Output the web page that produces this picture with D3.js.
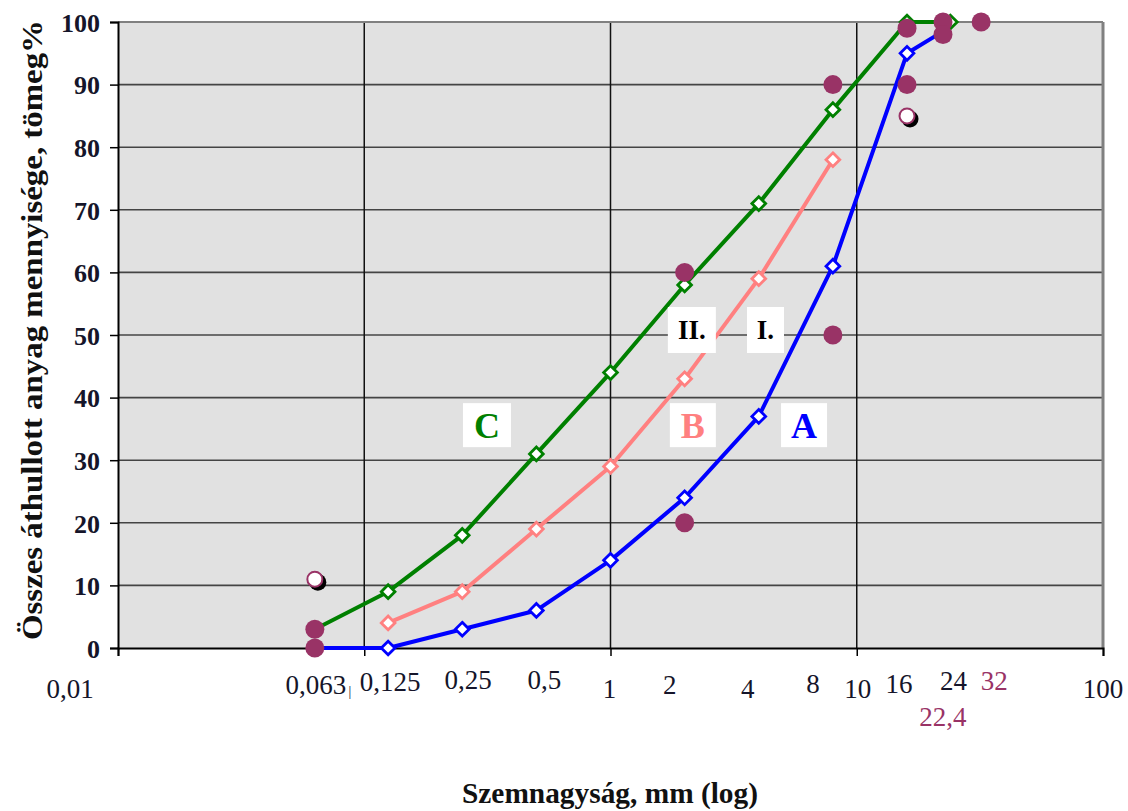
<!DOCTYPE html>
<html>
<head>
<meta charset="utf-8">
<script src="https://cdn.jsdelivr.net/npm/d3@7"></script>
<style>
  html, body { margin: 0; padding: 0; background: #fff; }
  svg { display: block; }
  text { font-family: "Liberation Serif", "Times New Roman", serif; }
</style>
</head>
<body>
<svg id="chart" width="1128" height="811"></svg>
<script>
// ---------- data ----------
const sieveC = [0.063, 0.125, 0.25, 0.5, 1, 2, 4, 8, 16, 24];
const valuesC = [3, 9, 18, 31, 44, 58, 71, 86, 100, 100];
const sieveB = [0.125, 0.25, 0.5, 1, 2, 4, 8];
const valuesB = [4, 9, 19, 29, 43, 59, 78];
const sieveA = [0.063, 0.125, 0.25, 0.5, 1, 2, 4, 8, 16, 22.4];
const valuesA = [0, 0, 3, 6, 14, 24, 37, 61, 95, 98.5];
// limit points (filled)
const limitSizes = [0.063, 0.063, 2, 2, 8, 8, 16, 16, 22.4, 22.4, 32];
const limitValues = [0, 3, 60, 20, 90, 50, 99, 90, 100, 98, 100];
// open (hollow) points
const openSizes = [0.063, 16];
const openValues = [11, 85];
// x-axis labels
const xLabelValues = [0.01, 0.063, 0.125, 0.25, 0.5, 1, 2, 4, 8, 10, 16, 24, 32, 100, 22.4];
const xLabelTexts = ["0,01", "0,063", "0,125", "0,25", "0,5", "1", "2", "4", "8", "10", "16", "24", "32", "100", "22,4"];
const yTickValues = [0, 10, 20, 30, 40, 50, 60, 70, 80, 90, 100];
// curve annotations
const annoTexts = ["C", "B", "A", "II.", "I."];
const annoX = [0.315, 2.16, 6.11, 2.14, 4.26];
const annoY = [35.6, 35.6, 35.6, 50.8, 50.8];

// ---------- layout ----------
const L = 118, R = 1103, T = 22, B = 648;
const svg = d3.select("#chart");
const x = d3.scaleLog().domain([0.01, 100]).range([L, R]);
const y = d3.scaleLinear().domain([0, 100]).range([B, T]);

const purple = "#993366";
const colors = { C: "#008000", B: "#ff8080", A: "#0000ff" };
const ink = "#15152a";

// background
svg.append("rect").attr("x", L).attr("y", T).attr("width", R - L).attr("height", B - T)
  .attr("fill", "#e1e1e1");

// horizontal grid
svg.append("g").selectAll("line").data(yTickValues.filter(v => v > 0 && v < 100)).join("line")
  .attr("x1", L).attr("x2", R).attr("y1", d => y(d)).attr("y2", d => y(d))
  .attr("stroke", "#444").attr("stroke-width", 1.6);
// vertical grid
svg.append("g").selectAll("line").data([0.1, 1, 10]).join("line")
  .attr("x1", d => x(d)).attr("x2", d => x(d)).attr("y1", T).attr("y2", B)
  .attr("stroke", "#111").attr("stroke-width", 1.5);

// top / right border
svg.append("line").attr("x1", L).attr("x2", R).attr("y1", T).attr("y2", T)
  .attr("stroke", "#808080").attr("stroke-width", 2);
svg.append("line").attr("x1", R).attr("x2", R).attr("y1", T).attr("y2", B)
  .attr("stroke", "#808080").attr("stroke-width", 3);

// y axis
const yAxis = d3.axisLeft(y).tickValues(yTickValues).tickSize(8).tickFormat(d3.format("d"));
const gy = svg.append("g").attr("transform", `translate(${L},0)`).call(yAxis);
gy.select(".domain").attr("stroke", "#000").attr("stroke-width", 2);
gy.selectAll(".tick line").attr("stroke", "#000").attr("stroke-width", 1.5);
gy.selectAll(".tick text").attr("x", -18).attr("dy", "0.36em").style("font-size", "26px")
  .style("font-weight", "bold").attr("fill", ink);

// x axis (decade ticks only, labels drawn separately)
const xAxis = d3.axisBottom(x).tickValues([0.01, 0.1, 1, 10, 100]).tickSize(8).tickFormat("");
const gx = svg.append("g").attr("transform", `translate(0,${B})`).call(xAxis);
gx.select(".domain").attr("stroke", "#000").attr("stroke-width", 2);
gx.selectAll(".tick line").attr("stroke", "#000").attr("stroke-width", 1.5);

// x labels: nudges (px) relative to the data value position, baseline y
const xLabelNudge = { "0,01": [-48, 698], "0,063": [1, 694], "0,125": [2, 691], "0,25": [6, 689],
  "0,5": [8, 689], "1": [-1, 698], "2": [-15, 694], "4": [-11, 698], "8": [-20, 693],
  "10": [1, 698], "16": [-8, 693], "24": [3, 690], "32": [13, 690], "100": [0, 698], "22,4": [0, 726] };
svg.append("g").selectAll("text").data(xLabelValues.map((v, i) => ({ v, t: xLabelTexts[i] }))).join("text")
  .attr("x", d => x(d.v) + xLabelNudge[d.t][0])
  .attr("y", d => xLabelNudge[d.t][1])
  .attr("text-anchor", "middle").style("font-size", "27px")
  .attr("fill", d => (d.t === "32" || d.t === "22,4") ? purple : ink)
  .text(d => d.t);
// small mark after 0,063
svg.append("text").attr("x", x(0.063) + 35).attr("y", 696).style("font-size", "14px")
  .attr("text-anchor", "middle").attr("fill", ink).text("|");

// lines
const line = d3.line().x(d => x(d[0])).y(d => y(d[1]));
const series = [
  { key: "C", xs: sieveC, ys: valuesC, markFrom: 1 },
  { key: "B", xs: sieveB, ys: valuesB, markFrom: 0 },
  { key: "A", xs: sieveA, ys: valuesA, markFrom: 1 }
];
series.forEach(s => {
  const pts = s.xs.map((v, i) => [v, s.ys[i]]);
  svg.append("path").datum(pts).attr("d", line).attr("fill", "none")
    .attr("stroke", colors[s.key]).attr("stroke-width", 4).attr("stroke-linejoin", "round");
});
const diamond = d3.symbol().type(d3.symbolDiamond2).size(120);
series.forEach(s => {
  const pts = s.xs.map((v, i) => [v, s.ys[i]]).slice(s.markFrom);
  const ptsShown = s.key === "A" ? pts.slice(0, pts.length - 1) : pts;
  svg.append("g").selectAll("path").data(ptsShown).join("path")
    .attr("d", diamond)
    .attr("transform", d => `translate(${x(d[0])},${y(d[1])})`)
    .attr("fill", "#fff").attr("stroke", colors[s.key]).attr("stroke-width", 2.8);
});

// open points with shadow
const openPts = openSizes.map((v, i) => [v, openValues[i]]);
svg.append("g").selectAll("circle").data(openPts).join("circle")
  .attr("cx", d => x(d[0]) + 3).attr("cy", d => y(d[1]) + 3).attr("r", 8.5).attr("fill", "#000");
svg.append("g").selectAll("circle").data(openPts).join("circle")
  .attr("cx", d => x(d[0])).attr("cy", d => y(d[1])).attr("r", 7.5)
  .attr("fill", "#fff").attr("stroke", purple).attr("stroke-width", 2);

// limit points
svg.append("g").selectAll("circle").data(limitSizes.map((v, i) => [v, limitValues[i]])).join("circle")
  .attr("cx", d => x(d[0])).attr("cy", d => y(d[1])).attr("r", 9.5).attr("fill", purple);

// annotations
const annoStyle = {
  "C": { w: 48, h: 44, fs: 36, c: colors.C }, "B": { w: 46, h: 44, fs: 36, c: colors.B },
  "A": { w: 46, h: 44, fs: 36, c: colors.A }, "II.": { w: 48, h: 46, fs: 27, c: "#000" },
  "I.": { w: 37, h: 46, fs: 27, c: "#000" }
};
annoTexts.forEach((t, i) => {
  const st = annoStyle[t];
  const cx = x(annoX[i]), cy = y(annoY[i]);
  svg.append("rect").attr("x", cx - st.w / 2).attr("y", cy - st.h / 2)
    .attr("width", st.w).attr("height", st.h).attr("fill", "#fff");
  svg.append("text").attr("x", cx).attr("y", cy).attr("dy", "0.35em")
    .attr("text-anchor", "middle").style("font-size", st.fs + "px").style("font-weight", "bold")
    .attr("fill", st.c).text(t);
});

// axis titles
svg.append("text").attr("transform", "translate(42,330) rotate(-90)")
  .attr("text-anchor", "middle").style("font-size", "29px").style("font-weight", "bold")
  .attr("fill", "#111").attr("textLength", 620).attr("lengthAdjust", "spacingAndGlyphs")
  .text("Összes áthullott anyag mennyisége, tömeg%");
svg.append("text").attr("x", 610).attr("y", 803)
  .attr("text-anchor", "middle").style("font-size", "30px").style("font-weight", "bold")
  .attr("fill", "#111").attr("textLength", 296).attr("lengthAdjust", "spacingAndGlyphs")
  .text("Szemnagyság, mm (log)");
</script>
</body>
</html>
